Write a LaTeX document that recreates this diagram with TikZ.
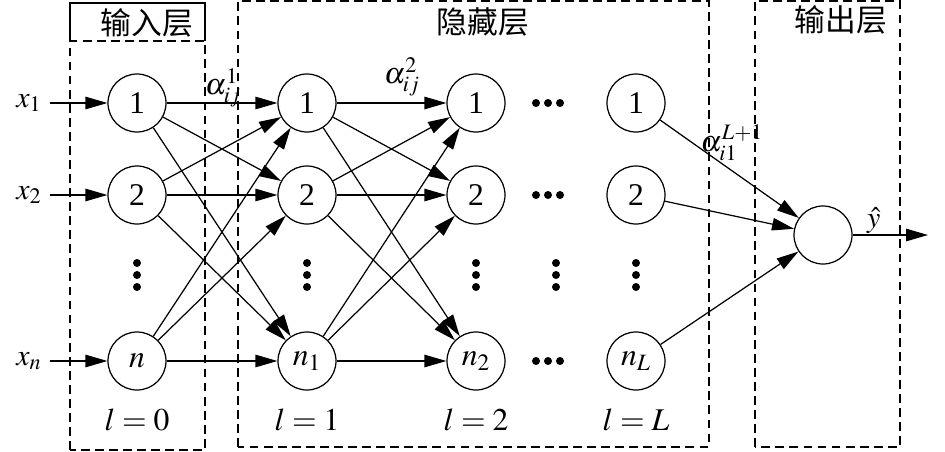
\documentclass[tikz,border=0pt]{standalone}
\usepackage{mathptmx}
\usepackage[no-math]{fontspec}
\setmainfont{Liberation Serif}
\newfontfamily\cjk{Noto Sans CJK SC}
\usetikzlibrary{arrows.meta}

\tikzset{
  neuron/.style={circle, draw, line width=0.7pt, minimum size=1.16cm, inner sep=0pt,
    font=\fontsize{18}{20}\selectfont},
  arr/.style={-{Triangle[length=0.44cm, width=0.25cm]}, line width=0.7pt},
  layerbox/.style={draw, line width=0.7pt, dash pattern=on 5pt off 3pt},
  layertitle/.style={font=\cjk\fontsize{17.5}{20}\selectfont},
  lab/.style={font=\fontsize{17}{19}\selectfont},
  idx/.style={font=\fontsize{18}{20}\selectfont},
}

\begin{document}
\begin{tikzpicture}
  \useasboundingbox (0,0) rectangle (18.9,9.02);
  % layer boxes
  \draw[layerbox] (1.40,0.02) rectangle (4.10,8.20);
  \draw[line width=0.7pt] (1.40,8.20) -- (1.40,8.96) -- (4.10,8.96) -- (4.10,8.20);
  \draw[layerbox] (4.76,0.08) rectangle (14.18,9.00);
  \draw[layerbox] (15.10,0.08) rectangle (18.00,9.00);
  \node[layertitle] (tin) at (2.94,8.56) {输入层};
  \node[layertitle] (thid) at (9.66,8.58) {隐藏层};
  \node[layertitle] (tout) at (16.82,8.62) {输出层};

  % neurons
  \node[neuron] (a1) at (2.74,6.96) {1};
  \node[neuron] (a2) at (2.74,5.12) {2};
  \node[neuron] (an) at (2.74,1.80) {$n$};
  \node[neuron] (b1) at (6.14,6.96) {1};
  \node[neuron] (b2) at (6.14,5.12) {2};
  \node[neuron] (bn) at (6.14,1.80) {$n_1$};
  \node[neuron] (c1) at (9.52,6.96) {1};
  \node[neuron] (c2) at (9.52,5.12) {2};
  \node[neuron] (cn) at (9.52,1.80) {$n_2$};
  \node[neuron] (d1) at (12.72,6.96) {1};
  \node[neuron] (d2) at (12.72,5.12) {2};
  \node[neuron] (dn) at (12.72,1.80) {$n_L$};
  \node[neuron] (out) at (16.46,4.32) {};

  % inputs
  \node[lab] (x1) at (0.58,6.96) {$x_1$};
  \node[lab] (x2) at (0.58,5.12) {$x_2$};
  \node[lab] (xn) at (0.58,1.80) {$x_n$};
  \foreach \i in {1,2,n}
    \draw[arr, shorten <=1pt] (x\i) -- (a\i);

  % connections
  \foreach \s in {a1,a2,an}
    \foreach \t in {b1,b2,bn}
      \draw[arr] (\s) -- (\t);
  \foreach \s in {b1,b2,bn}
    \foreach \t in {c1,c2,cn}
      \draw[arr] (\s) -- (\t);
  \foreach \s in {d1,d2,dn}
    \draw[arr] (\s) -- (out);
  \coordinate (yend) at (18.56,4.32);
  \draw[arr] (out) -- node[lab, above, pos=0.28, inner sep=0.5pt] {$\hat{y}$} (yend);

  % weights
  \node[lab] (w1) at (4.46,7.26) {$\alpha^{1}_{ij}$};
  \node[lab] (w2) at (8.04,7.48) {$\alpha^{2}_{ij}$};
  \node[lab] (wL) at (14.64,6.16) {$\alpha^{L+1}_{i1}$};

  % dots
  \foreach \x in {2.74,6.14,9.52,11.12,12.72}
    \foreach \y in {3.28,3.52,3.76}
      \fill (\x,\y) circle (0.08);
  \foreach \y in {6.96,5.12,1.80}
    \foreach \x in {10.72,10.96,11.20}
      \fill (\x,\y) circle (0.08);

  % layer index
  \node[idx] (l0) at (2.74,0.62) {$l=0$};
  \node[idx] (l1) at (6.14,0.62) {$l=1$};
  \node[idx] (l2) at (9.52,0.62) {$l=2$};
  \node[idx] (lL) at (12.72,0.62) {$l=L$};
\end{tikzpicture}
\end{document}
